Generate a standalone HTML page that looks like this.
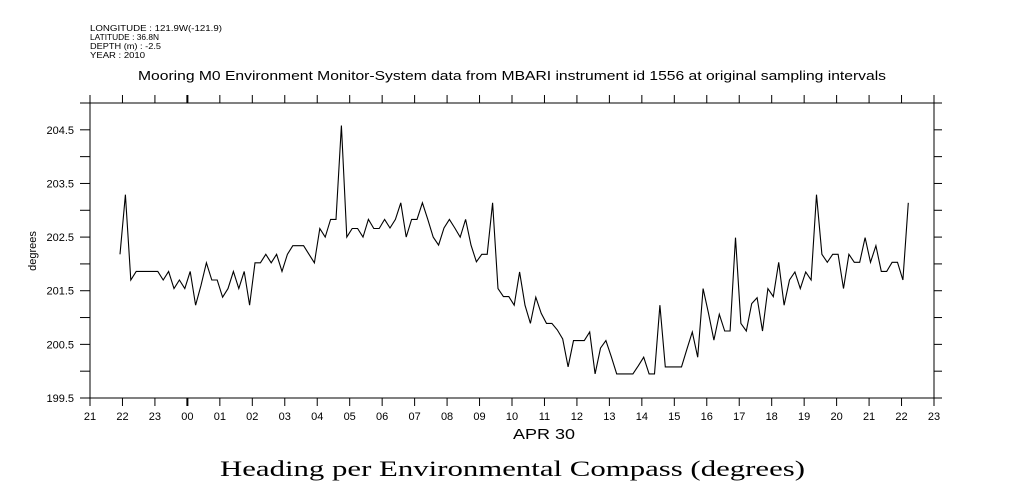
<!DOCTYPE html>
<html><head><meta charset="utf-8"><style>
body{margin:0;background:#fff;}
svg{display:block;font-family:"Liberation Sans",sans-serif;}
</style></head><body>
<svg id="chart" width="1009" height="504" viewBox="0 0 1009 504">
<g font-size="8.5" fill="#000">
<text x="90" y="31" textLength="132" lengthAdjust="spacingAndGlyphs">LONGITUDE : 121.9W(-121.9)</text>
<text x="90" y="40" textLength="69" lengthAdjust="spacingAndGlyphs">LATITUDE : 36.8N</text>
<text x="90" y="49" textLength="71" lengthAdjust="spacingAndGlyphs">DEPTH (m) : -2.5</text>
<text x="90" y="58" textLength="55" lengthAdjust="spacingAndGlyphs">YEAR : 2010</text>
</g>
<text x="138" y="80" font-size="12.5" textLength="748" lengthAdjust="spacingAndGlyphs">Mooring M0 Environment Monitor-System data from MBARI instrument id 1556 at original sampling intervals</text>
<g id="axes" stroke="#000" stroke-width="1" fill="none"></g>
<g id="labels" font-size="11" fill="#000"></g>
<text transform="translate(36,251) rotate(-90)" font-size="11" text-anchor="middle">degrees</text>
<text x="513" y="439" font-size="15" textLength="62" lengthAdjust="spacingAndGlyphs">APR 30</text>
<text x="220" y="476" font-size="22" textLength="585" lengthAdjust="spacingAndGlyphs" font-family="Liberation Serif, serif">Heading per Environmental Compass (degrees)</text>
<polyline id="line" fill="none" stroke="#000" stroke-width="1.1"/>
</svg>
<script>
const startHour = 21.924; // hours since Apr 29 21:00 axis origin (=21)
const stepMinutes = 9.98;
const values = [202.18,203.29,201.70,201.86,201.86,201.86,201.86,201.86,201.70,201.86,
201.54,201.70,201.54,201.86,201.23,201.60,202.02,201.70,201.70,201.38,
201.54,201.86,201.54,201.86,201.23,202.02,202.02,202.18,202.02,202.18,
201.86,202.18,202.34,202.34,202.34,202.18,202.02,202.66,202.50,202.83,
202.83,204.58,202.50,202.66,202.66,202.50,202.83,202.66,202.66,202.83,
202.67,202.83,203.14,202.50,202.83,202.83,203.14,202.83,202.50,202.35,
202.67,202.83,202.67,202.50,202.83,202.35,202.04,202.18,202.18,203.14,
201.54,201.39,201.39,201.23,201.85,201.23,200.89,201.38,201.08,200.89,
200.89,200.77,200.60,200.08,200.57,200.57,200.57,200.73,199.95,200.43,
200.57,200.27,199.95,199.95,199.95,199.95,200.10,200.26,199.95,199.95,
201.23,200.08,200.08,200.08,200.08,200.41,200.73,200.26,201.54,201.08,
200.58,201.06,200.75,200.75,202.49,200.89,200.75,201.26,201.37,200.75,
201.54,201.39,202.03,201.23,201.70,201.85,201.54,201.85,201.70,203.29,
202.18,202.03,202.18,202.18,201.54,202.18,202.03,202.03,202.49,202.03,
202.34,201.86,201.86,202.03,202.03,201.70,203.14];
const xTickLabels = ["21","22","23","00","01","02","03","04","05","06","07","08","09","10","11","12","13","14","15","16","17","18","19","20","21","22","23"];
const yTickLabels = ["199.5","200.5","201.5","202.5","203.5","204.5"];

const X0=90,X1=934,Y0=398,Y1=103;
const xMin=21,xMax=47,yMin=199.5,yMax=205.0;
const sx=h=>X0+(h-xMin)/(xMax-xMin)*(X1-X0);
const sy=v=>Y0-(v-yMin)/(yMax-yMin)*(Y0-Y1);
const NS="http://www.w3.org/2000/svg";
const axes=document.getElementById('axes'), labels=document.getElementById('labels');
function ln(x1,y1,x2,y2,w,name){const l=document.createElementNS(NS,'line');
l.setAttribute('x1',x1);l.setAttribute('y1',y1);l.setAttribute('x2',x2);l.setAttribute('y2',y2);
if(w)l.setAttribute('stroke-width',w);


axes.appendChild(l);}
ln(X0-10,Y1,X1+8,Y1,1,'top-axis');ln(X0-10,Y0,X1+8,Y0,1,'bottom-axis');
ln(X0,Y1,X0,Y0,1,'left-axis');ln(X1,Y1,X1,Y0,1,'right-axis');
xTickLabels.forEach((t,i)=>{const x=sx(xMin+i);const w=(t==="00")?2:1;
ln(x,Y1-8,x,Y1,w,'x-tick-top');ln(x,Y0,x,Y0+8,w,'x-tick-bottom');
const tx=document.createElementNS(NS,'text');tx.setAttribute('x',x);tx.setAttribute('y',Y0+22);
tx.setAttribute('text-anchor','middle');tx.textContent=t;


labels.appendChild(tx);});
for(let v=yMin;v<=yMax+1e-6;v+=0.5){const y=sy(v);ln(X0-10,y,X0,y,1,'y-tick-left');ln(X1,y,X1+8,y,1,'y-tick-right');}
yTickLabels.forEach(t=>{const y=sy(parseFloat(t));const tx=document.createElementNS(NS,'text');
tx.setAttribute('x',X0-16);tx.setAttribute('y',y+4);tx.setAttribute('text-anchor','end');tx.textContent=t;


labels.appendChild(tx);});
document.getElementById('line').setAttribute('points',values.map((v,i)=>sx(startHour+i*stepMinutes/60).toFixed(1)+','+sy(v).toFixed(1)).join(' '));
</script>
</body></html>
